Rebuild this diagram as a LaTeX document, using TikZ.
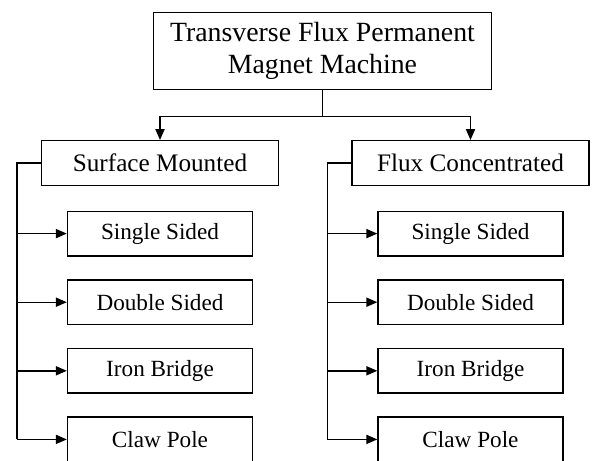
\documentclass[tikz,border=0pt]{standalone}
\usepackage{fontspec}
\setmainfont{Liberation Serif}
\usetikzlibrary{positioning,arrows.meta}

\begin{document}
\begin{tikzpicture}[
  x=0.5pt, y=-0.5pt,
  box/.style={draw, line width=0.7pt, inner sep=0pt, align=center, minimum height=22.3pt},
  head/.style={box, minimum width=118.5pt, font=\fontsize{12.6}{15}\selectfont},
  leaf/.style={box, minimum width=92.5pt, font=\fontsize{11.6}{14}\selectfont},
  arrow/.style={-{Triangle[length=5.5pt,width=4.6pt]}, line width=0.7pt},
  line/.style={line width=0.7pt}
]
  \useasboundingbox (0,0) rectangle (593,460);
  \node[box, minimum width=169pt, minimum height=38.5pt, font=\fontsize{13.9}{16}\selectfont] (tfpm) at (322.5,51) {Transverse Flux Permanent\\Magnet Machine};
  \node[head] (sm) at (160,163) {Surface Mounted};
  \node[head] (fc) at (470.5,163) {Flux Concentrated};
  \node[leaf, below=12.3pt of sm] (sm1) {Single Sided};
  \node[leaf, below=11.3pt of sm1] (sm2) {Double Sided};
  \node[leaf, below=11.3pt of sm2] (sm3) {Iron Bridge};
  \node[leaf, below=11.3pt of sm3] (sm4) {Claw Pole};
  \node[leaf, below=12.3pt of fc] (fc1) {Single Sided};
  \node[leaf, below=11.3pt of fc1] (fc2) {Double Sided};
  \node[leaf, below=11.3pt of fc2] (fc3) {Iron Bridge};
  \node[leaf, below=11.3pt of fc3] (fc4) {Claw Pole};
  % split below the title box
  \coordinate (split) at ([yshift=-13pt]tfpm.south);
  \draw[line] (tfpm.south) -- (split);
  \draw[arrow] (split) -| (sm.north);
  \draw[arrow] (split) -| (fc.north);
  % left branch
  \coordinate (smbus) at ([xshift=-12pt]sm.west);
  \draw[line] (sm.west) -- (smbus) -- (smbus |- sm4.west);
  \draw[arrow] (smbus |- sm1.west) -- (sm1.west);
  \draw[arrow] (smbus |- sm2.west) -- (sm2.west);
  \draw[arrow] (smbus |- sm3.west) -- (sm3.west);
  \draw[arrow] (smbus |- sm4.west) -- (sm4.west);
  % right branch
  \coordinate (fcbus) at ([xshift=-12pt]fc.west);
  \draw[line] (fc.west) -- (fcbus) -- (fcbus |- fc4.west);
  \draw[arrow] (fcbus |- fc1.west) -- (fc1.west);
  \draw[arrow] (fcbus |- fc2.west) -- (fc2.west);
  \draw[arrow] (fcbus |- fc3.west) -- (fc3.west);
  \draw[arrow] (fcbus |- fc4.west) -- (fc4.west);
\end{tikzpicture}
\end{document}
